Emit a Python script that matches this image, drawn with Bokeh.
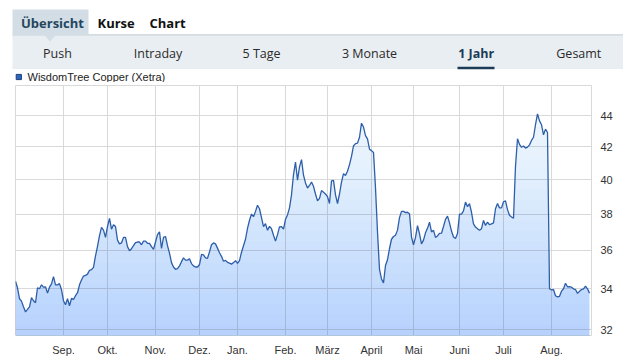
import numpy as np
from bokeh.plotting import figure
from bokeh.layouts import column
from bokeh.models import Range1d, FixedTicker, PrintfTickFormatter
from bokeh.core.properties import value
from bokeh.embed import file_html
from bokeh.resources import INLINE

# ---------------- data ----------------
series_name = "WisdomTree Copper (Xetra)"
prices = [
    34.38, 34.05, 33.5, 33.38, 33.1, 32.85, 32.97, 33.1, 33.55, 33.4,
    33.3, 34.05, 34.0, 34.2, 34.08, 34.1, 33.78, 34.08, 34.25, 34.62,
    34.2, 34.2, 34.26, 33.95, 33.4, 33.2, 33.5, 33.15, 33.52, 33.47,
    33.65, 33.8, 34.2, 34.45, 34.65, 34.68, 34.75, 34.95, 34.98, 35.1,
    35.7, 36.22, 36.8, 37.25, 37.1, 36.7, 37.3, 37.75, 37.15, 37.4,
    37.3, 36.55, 36.35, 36.4, 36.7, 36.7, 36.2, 35.98, 36.09, 36.25,
    36.42, 36.45, 36.45, 36.3, 36.5, 36.5, 36.38, 36.38, 36.2, 36.05,
    36.45, 36.85, 37.0, 36.1, 36.7, 36.75, 36.25, 35.85, 35.35, 35.12,
    35.0, 35.03, 35.18, 35.4, 35.6, 35.48, 35.48, 35.55, 35.3, 35.18,
    35.12, 35.12, 35.25, 35.78, 35.76, 35.6, 35.58, 35.92, 36.3, 36.4,
    36.35, 36.12, 35.87, 35.68, 35.42, 35.47, 35.36, 35.32, 35.27, 35.35,
    35.45, 35.31, 35.45, 35.9, 36.25, 36.6, 37.2, 37.65, 38.0, 37.85,
    38.15, 38.5, 38.3, 37.8, 37.3, 37.46, 37.09, 37.31, 37.18, 36.82,
    36.5, 36.85, 37.28, 37.3, 37.15, 37.7, 37.95, 38.35, 39.1, 40.3,
    41.06, 39.96, 40.76, 41.2, 40.26, 39.8, 39.5, 39.65, 39.85, 39.6,
    39.15, 38.75, 38.9, 39.35, 39.25, 39.15, 39.0, 38.6, 39.92, 39.95,
    39.1, 38.6, 39.15, 39.85, 40.35, 40.25, 40.5, 40.9, 41.4, 42.05,
    42.2, 42.23, 42.6, 43.5, 43.25, 42.7, 42.5, 41.85, 41.76, 41.65,
    39.5, 37.0, 35.0, 34.5, 34.3, 35.2, 35.5, 36.1, 36.6, 36.75,
    36.82, 37.1, 37.8, 38.15, 38.15, 38.08, 38.1, 38.02, 36.72, 36.3,
    36.7, 37.35, 36.9, 36.35, 36.55, 36.95, 37.2, 37.54, 37.0, 37.09,
    36.7, 36.78, 36.92, 36.93, 37.3, 37.7, 37.88, 37.5, 37.05, 36.72,
    36.64, 36.91, 38.0, 38.0, 38.18, 38.68, 38.42, 38.59, 38.1, 37.45,
    37.27, 37.18, 37.09, 37.18, 37.64, 37.36, 37.54, 37.4, 37.45, 37.5,
    38.3, 38.6, 38.35, 38.35, 38.7, 38.75, 38.25, 37.93, 37.83, 37.76,
    40.8, 42.5, 42.15, 41.97, 42.05, 41.92, 41.98, 42.12, 42.4, 42.6,
    43.4, 44.1, 43.65, 43.4, 42.75, 43.12, 42.9, 34.0, 33.94, 33.96,
    33.65, 33.59, 33.62, 33.88, 34.0, 34.28, 34.1, 34.11, 34.08, 34.0,
    33.96, 33.77, 33.87, 33.96, 34.0, 34.14, 34.0, 33.78,
]
month_labels = ["Sep.", "Okt.", "Nov.", "Dez.", "Jan.", "Feb.", "März",
                "April", "Mai", "Juni", "Juli", "Aug."]
month_start_idx = [24, 46, 70, 92, 111, 135, 156, 178, 199, 222, 244, 268]
price_ticks = [32, 34, 36, 38, 40, 42, 44]

top_tabs = ["Übersicht", "Kurse", "Chart"]
range_tabs = ["Push", "Intraday", "5 Tage", "3 Monate", "1 Jahr", "Gesamt"]
active_range = "1 Jahr"

# ---------------- header (tabs + legend) ----------------
W = 623
HH = 82
hdr = figure(width=W, height=HH, x_range=Range1d(0, W), y_range=Range1d(HH, 0),
             min_border=0, toolbar_location=None, output_backend="svg",
             x_axis_location=None, y_axis_location=None)
hdr.frame_align = False
hdr.grid.visible = False
hdr.outline_line_color = None
hdr.background_fill_color = "white"
hdr.border_fill_color = "white"

hdr.quad(left=12, right=W, top=34, bottom=68.5, fill_color="#e9eef2", line_color=None)
hdr.segment(x0=12, y0=34.3, x1=W, y1=34.3, line_color="#cad4dc", line_width=1.3)
hdr.quad(left=12, right=88, top=9, bottom=34, fill_color="#d3dde5", line_color=None)
hdr.patch(x=[43.5, 55.5, 49.5], y=[34, 34, 41], fill_color="#d3dde5", line_color=None)

tab_x = [20.5, 97, 149]
tab_col = ["#24475f", "#111111", "#111111"]
hdr.text(x=tab_x, y=[22.5] * 3, text=top_tabs, text_font=value("Open Sans"),
         text_font_size="13px", text_font_style="bold", text_color=tab_col,
         text_baseline="middle", text_align="left")

range_x = [57, 157.5, 261, 369, 475.7, 578.3]
cols = ["#1b3b57" if t == active_range else "#2a2a2a" for t in range_tabs]
styles = ["bold" if t == active_range else "normal" for t in range_tabs]
hdr.text(x=range_x, y=[53.3] * 6, text=range_tabs, text_font=value("Open Sans"),
         text_font_size="12.5px", text_color=cols, text_font_style=styles,
         text_baseline="middle", text_align="center")
hdr.quad(left=457, right=494, top=66.3, bottom=68.8, fill_color="#1b3b57", line_color=None)

hdr.quad(left=15.7, right=20.9, top=73.9, bottom=79.1, fill_color="#2f64c0",
         line_color="#1d3f7a", line_width=1)
hdr.text(x=[27], y=[76.6], text=[series_name], text_font=value("Liberation Sans"),
         text_font_size="11px", text_color="#222222", text_baseline="middle",
         text_align="left")

# ---------------- main chart ----------------
vals = np.array(prices, dtype=float)
idx = np.arange(len(vals))
ylo, yhi = 31.716, 46.01

p = figure(width=W, height=363 - HH, x_range=Range1d(0, 288), y_range=Range1d(ylo, yhi),
           y_axis_type="log", y_axis_location="right", toolbar_location=None,
           output_backend="svg", min_border_left=15, min_border_right=32,
           min_border_top=3, min_border_bottom=28)
p.frame_align = False
p.background_fill_color = "white"
p.border_fill_color = "white"
p.outline_line_color = "#d9d9d9"

N = 24
base = "#3a82e0"
prev = 0.0
lhi, llo = np.log(yhi), np.log(ylo)
for j in range(N):
    f = j / N
    A = 0.06 + 0.28 * f
    a = A if j == 0 else 1 - (1 - A) / (1 - prev)
    prev = A
    t = np.exp(lhi - (lhi - llo) * f)
    p.varea(x=idx, y1=31.0, y2=np.minimum(vals, t), fill_color=base, fill_alpha=a)

p.line(idx, vals, line_color="#2d5ea9", line_width=1.3)

p.xaxis.ticker = FixedTicker(ticks=month_start_idx)
p.xaxis.major_label_overrides = {i: m for i, m in zip(month_start_idx, month_labels)}
p.yaxis.ticker = FixedTicker(ticks=price_ticks)
p.yaxis.formatter = PrintfTickFormatter(format="%d")
for ax in (p.xaxis, p.yaxis):
    ax.axis_line_color = None
    ax.major_tick_line_color = None
    ax.minor_tick_line_color = None
    ax.major_label_text_font = "Liberation Sans"
    ax.major_label_text_font_size = "11px"
    ax.major_label_text_color = "#333333"
p.xaxis.major_label_standoff = 2
p.yaxis.major_label_standoff = 3
p.grid.grid_line_color = "#d9d9d9"
p.grid.grid_line_width = 1
p.ygrid.minor_grid_line_color = None

layout = column(hdr, p, spacing=0)
open("out.html", "w").write(file_html(layout, INLINE))
